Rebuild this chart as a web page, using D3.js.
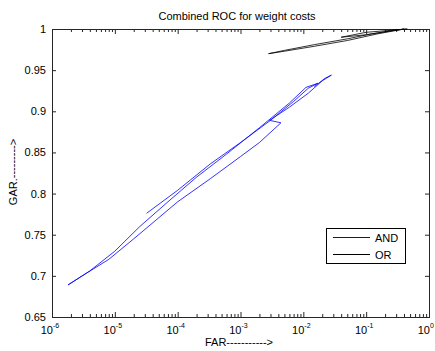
<!DOCTYPE html>
<html>
<head>
<meta charset="utf-8">
<script src="https://cdn.jsdelivr.net/npm/d3@7"></script>
<style>
  body { margin: 0; background: #fff; }
  svg { display: block; font-family: "Liberation Sans", Arial, sans-serif; }
</style>
</head>
<body>
<svg id="chart" width="435" height="351"></svg>
<script>
// Combined ROC for weight costs (MATLAB-style log-x plot)

// AND curve (one continuous path that doubles back on itself)
const andFar = [3.2e-5, 1e-4, 3.3e-4, 1e-3, 3e-3, 7e-3, 1.2e-2, 1.7e-2, 1.1e-2, 6e-3,
                2e-3, 6e-4, 2e-4, 7e-5, 2.5e-5, 1e-5, 4e-6, 1.8e-6, 3.5e-6, 8e-6,
                2e-5, 1e-4, 3.3e-4, 1e-3, 2e-3, 4.4e-3, 2.9e-3, 6e-3, 1.2e-2, 2e-2,
                2.8e-2, 2.2e-2, 1.5e-2];
const andGar = [0.776, 0.804, 0.836, 0.862, 0.889, 0.912, 0.928, 0.934, 0.929, 0.910,
                0.880, 0.848, 0.820, 0.790, 0.760, 0.730, 0.706, 0.689, 0.703, 0.720,
                0.745, 0.790, 0.818, 0.845, 0.862, 0.886, 0.889, 0.905, 0.922, 0.937,
                0.944, 0.940, 0.930];

// OR curve
const orFar = [0.4, 0.15, 0.05, 0.015, 5e-3, 2.8e-3, 5e-3, 0.015, 0.05, 0.12,
               0.3, 0.45, 0.1, 0.04, 0.1, 0.4];
const orGar = [1.0, 0.994, 0.986, 0.979, 0.973, 0.970, 0.974, 0.981, 0.988, 0.994,
               0.999, 1.0, 0.996, 0.990, 0.993, 1.0];

// ticks
const xTickExps = [-6, -5, -4, -3, -2, -1, 0];
const yTicks = [0.65, 0.7, 0.75, 0.8, 0.85, 0.9, 0.95, 1];
const legendLabels = ['AND', 'OR'];
const seriesColors = ['#0000ff', '#000000'];

const svg = d3.select('#chart');
const plotLeft = 52, plotRight = 429, plotTop = 29, plotBottom = 317;

const x = d3.scaleLog().domain([1e-6, 1]).range([plotLeft, plotRight]);
const y = d3.scaleLinear().domain([0.65, 1]).range([plotBottom, plotTop]);

// minor ticks 2..9 in each decade
const majorX = xTickExps.map(e => Math.pow(10, e));
const minorX = [];
xTickExps.slice(0, -1).forEach(e => {
    for (let k = 2; k <= 9; k++) minorX.push(k * Math.pow(10, e));
});

const axisColor = '#262626';

// Axes with inward ticks on all four sides
const axes = svg.append('g').attr('class', 'axes');

function drawAxis(axisGen, tx, ty) {
    const g = axes.append('g')
        .attr('transform', `translate(${tx},${ty})`)
        .call(axisGen);
    g.select('.domain').remove();
    g.selectAll('line').attr('stroke', axisColor);
    g.selectAll('text').remove();
    return g;
}

drawAxis(d3.axisBottom(x).tickValues(majorX).tickSize(-5).tickFormat(''), 0, plotBottom);
drawAxis(d3.axisBottom(x).tickValues(minorX).tickSize(-3).tickFormat(''), 0, plotBottom);
drawAxis(d3.axisTop(x).tickValues(majorX).tickSize(-5).tickFormat(''), 0, plotTop);
drawAxis(d3.axisTop(x).tickValues(minorX).tickSize(-3).tickFormat(''), 0, plotTop);
drawAxis(d3.axisLeft(y).tickValues(yTicks).tickSize(-4).tickFormat(''), plotLeft, 0);
drawAxis(d3.axisRight(y).tickValues(yTicks).tickSize(-4).tickFormat(''), plotRight, 0);

// box
axes.append('rect')
    .attr('x', plotLeft + 0.5)
    .attr('y', plotTop + 0.5)
    .attr('width', plotRight - plotLeft)
    .attr('height', plotBottom - plotTop)
    .attr('fill', 'none')
    .attr('stroke', axisColor)
    .attr('stroke-width', 1);

// y tick labels
svg.append('g').selectAll('text')
    .data(yTicks)
    .join('text')
    .attr('x', plotLeft - 6)
    .attr('y', d => y(d) + 4)
    .attr('text-anchor', 'end')
    .attr('font-size', '11px')
    .attr('fill', '#000')
    .text(d => d === 1 ? '1' : d3.format('.2~f')(d));

// x tick labels (10 with superscript exponent)
const xl = svg.append('g').selectAll('g')
    .data(xTickExps)
    .join('g');
xl.append('text')
    .attr('x', d => x(Math.pow(10, d)) + 1)
    .attr('y', plotBottom + 17)
    .attr('text-anchor', 'end')
    .attr('font-size', '11px')
    .text('10');
xl.append('text')
    .attr('x', d => x(Math.pow(10, d)) + 1)
    .attr('y', plotBottom + 11)
    .attr('font-size', '7px')
    .text(d => d);

// lines
const line = d3.line()
    .x(d => x(d[0]))
    .y(d => y(d[1]));

const plot = svg.append('g');
plot.append('path')
    .datum(andFar.map((f, i) => [f, andGar[i]]))
    .attr('d', line)
    .attr('fill', 'none')
    .attr('stroke', seriesColors[0])
    .attr('stroke-width', 0.8);
plot.append('path')
    .datum(orFar.map((f, i) => [f, orGar[i]]))
    .attr('d', line)
    .attr('fill', 'none')
    .attr('stroke', seriesColors[1])
    .attr('stroke-width', 0.8);

// title + axis labels
svg.append('text')
    .attr('x', 237)
    .attr('y', 20)
    .attr('text-anchor', 'middle')
    .attr('font-size', '11px')
    .text('Combined ROC for weight costs');

svg.append('text')
    .attr('x', 239)
    .attr('y', 346)
    .attr('text-anchor', 'middle')
    .attr('font-size', '11px')
    .text('FAR----------->');

svg.append('text')
    .attr('transform', 'translate(17,172) rotate(-90)')
    .attr('text-anchor', 'middle')
    .attr('font-size', '11px')
    .text('GAR.--------->');

// legend
const lg = svg.append('g').attr('transform', 'translate(326,228)');
lg.append('rect')
    .attr('x', 0.5).attr('y', 0.5)
    .attr('width', 79).attr('height', 35)
    .attr('fill', '#fff')
    .attr('stroke', '#000');
legendLabels.forEach((lab, i) => {
    const ly = 9.5 + i * 17;
    lg.append('line')
        .attr('x1', 7).attr('x2', 44)
        .attr('y1', ly).attr('y2', ly)
        .attr('stroke', seriesColors[i]);
    lg.append('text')
        .attr('x', 49)
        .attr('y', ly + 4)
        .attr('font-size', '11px')
        .text(lab);
});
</script>
</body>
</html>
